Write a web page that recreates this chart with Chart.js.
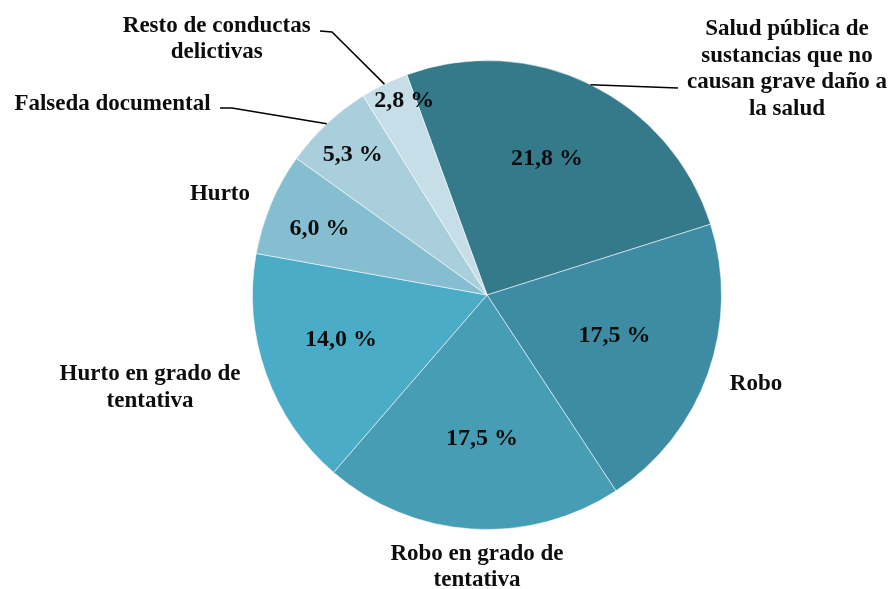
<!DOCTYPE html>
<html>
<head>
<meta charset="utf-8">
<script src="https://cdn.jsdelivr.net/npm/chart.js@4"></script>
<style>
  html, body { margin: 0; padding: 0; background: #ffffff; }
  #wrap { width: 890px; height: 589px; position: relative; }
</style>
</head>
<body>
<div id="wrap"><canvas id="c" width="890" height="589"></canvas></div>
<script>
// ---- data ----
const categories = [
  'Salud pública de sustancias que no causan grave daño a la salud',
  'Robo',
  'Robo en grado de tentativa',
  'Hurto en grado de tentativa',
  'Hurto',
  'Falseda documental',
  'Resto de conductas delictivas'
];
const values = [21.8, 17.5, 17.5, 14.0, 6.0, 5.3, 2.8];
const labelLines = [
  ['Salud pública de', 'sustancias que no', 'causan grave daño a', 'la salud'],
  ['Robo'],
  ['Robo en grado de', 'tentativa'],
  ['Hurto en grado de', 'tentativa'],
  ['Hurto'],
  ['Falseda documental'],
  ['Resto de conductas', 'delictivas']
];

// ---- styling / layout ----
const colors = ['#357A8B', '#3E8CA3', '#469DB4', '#4AACC6', '#86BED1', '#A9CFDD', '#C5DEE7'];
const pctRadius = [0.64, 0.57, 0.61, 0.65, 0.77, 0.83, 0.906];
const pctAngleShift = [-2.7, -2.1, -1.7, 2.8, -1.0, -0.5, 3.0];
const nameAnchor = [
  [787, 29.5], [756, 384], [477, 554], [150, 374.5], [220, 194], [112.5, 104.5], [216.7, 26]
];
const lineHeight = 26.4;
const leaders = {
  0: [[678, 88]],
  5: [[232, 108], [220, 108]],
  6: [[332, 32], [320, 31]]
};
const FONT = '"Liberation Serif", "Times New Roman", serif';

const labelPlugin = {
  id: 'pieLabels',
  afterDatasetsDraw(chart) {
    const ctx = chart.ctx;
    const meta = chart.getDatasetMeta(0);
    ctx.save();
    ctx.fillStyle = '#0d0d0d';
    ctx.textAlign = 'center';
    ctx.textBaseline = 'middle';
    meta.data.forEach((arc, i) => {
      const p = arc.getProps(['x', 'y', 'startAngle', 'endAngle', 'outerRadius'], true);
      const mid = (p.startAngle + p.endAngle) / 2;
      // percentage label
      const ang = mid + pctAngleShift[i] * Math.PI / 180;
      const r = p.outerRadius * pctRadius[i];
      ctx.font = 'bold 24px ' + FONT;
      const txt = values[i].toFixed(1).replace('.', ',') + ' %';
      ctx.fillText(txt, p.x + Math.cos(ang) * r, p.y + Math.sin(ang) * r + 1);
      // category label
      ctx.font = 'bold 23px ' + FONT;
      const a = nameAnchor[i];
      labelLines[i].forEach((ln, k) => {
        ctx.fillText(ln, a[0], a[1] + k * lineHeight);
      });
      // leader line
      if (leaders[i]) {
        ctx.beginPath();
        ctx.strokeStyle = '#000';
        ctx.lineWidth = 1.5;
        ctx.moveTo(p.x + Math.cos(mid) * p.outerRadius, p.y + Math.sin(mid) * p.outerRadius);
        leaders[i].forEach(pt => ctx.lineTo(pt[0], pt[1]));
        ctx.stroke();
      }
    });
    ctx.restore();
  }
};

new Chart(document.getElementById('c'), {
  type: 'pie',
  data: {
    labels: categories,
    datasets: [{
      data: values,
      backgroundColor: colors,
      borderColor: 'rgba(255,255,255,0.55)',
      borderWidth: 1
    }]
  },
  options: {
    responsive: false,
    animation: false,
    rotation: -20,
    layout: { padding: { top: 60, bottom: 59, left: 252, right: 168 } },
    plugins: {
      legend: { display: false },
      tooltip: { enabled: false },
      title: { display: false }
    }
  },
  plugins: [labelPlugin]
});
</script>
</body>
</html>
